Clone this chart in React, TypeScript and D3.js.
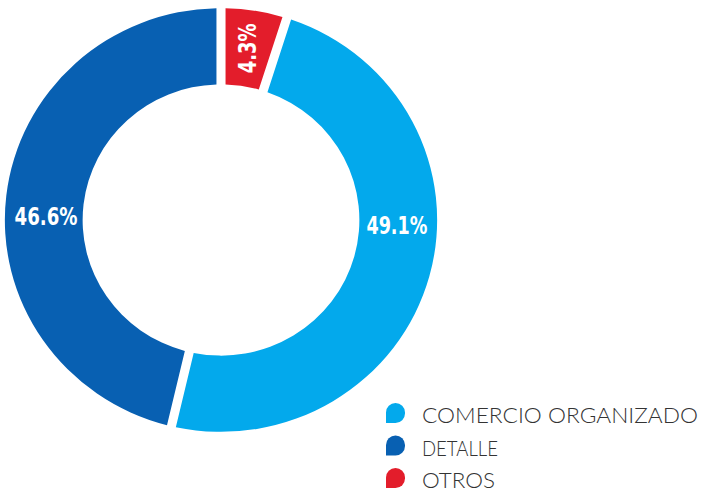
import React from "react";
import * as d3 from "d3";

const categories = ["OTROS", "COMERCIO ORGANIZADO", "DETALLE"];
const values = [4.3, 49.1, 46.6];
const labels = ["4.3%", "49.1%", "46.6%"];
const colors = ["#e31d2b", "#03a9ec", "#0860b2"];
const legendOrder = ["COMERCIO ORGANIZADO", "DETALLE", "OTROS"];

const W = 702;
const H = 499;
const CX = 221;
const CY = 220;
const R_OUT = 214;
const R_IN = 137;

// label placement (angle in degrees clockwise from top, radius), 0 = centroid
const labelPlacement: Record<string, { angle: number | null; r: number; rotate: number; len: number }> = {
  "OTROS": { angle: null, r: 175, rotate: -90, len: 50 },
  "COMERCIO ORGANIZADO": { angle: 92, r: 176, rotate: 0, len: 61 },
  "DETALLE": { angle: 271, r: 175, rotate: 0, len: 63 },
};

function markerPath(x: number, y: number, w: number, h: number) {
  const r = w / 2;
  return `M${x},${y + h} L${x},${y + r} A${r},${r} 0 0 1 ${x + w},${y + r} L${x + w},${y + h - r} A${r},${r} 0 0 1 ${x + w - r},${y + h} Z`;
}

export default function App() {
  const pie = d3
    .pie<number>()
    .sort(null)
    .value((d) => d)
    .padAngle(0.045);
  const arcs = pie(values);
  const arc = d3
    .arc<d3.PieArcDatum<number>>()
    .innerRadius(R_IN)
    .outerRadius(R_OUT)
    .padRadius(200);

  const legendY = d3.scalePoint<string>().domain(legendOrder).range([423, 488]);

  return (
    <svg width={W} height={H} style={{ position: "absolute", left: 0, top: 0, background: "#fff" }}>
      <g transform={`translate(${CX},${CY}) scale(1.01,0.99)`}>
        {arcs.map((a, i) => (
          <path key={categories[i]} d={arc(a) || ""} fill={colors[i]} />
        ))}
      </g>
      {arcs.map((a, i) => {
        const p = labelPlacement[categories[i]];
        let x: number, y: number;
        if (p.angle === null) {
          const c = arc.centroid(a);
          x = CX + c[0] * 1.01;
          y = CY + c[1] * 0.99;
        } else {
          const t = (p.angle * Math.PI) / 180;
          x = CX + p.r * Math.sin(t);
          y = CY - p.r * Math.cos(t);
        }
        return (
          <text
            key={"l" + i}
            transform={`translate(${x},${y}) rotate(${p.rotate})`}
            textAnchor="middle"
            dominantBaseline="central"
            fill="#fff"
            fontFamily="'Liberation Sans Narrow', 'DejaVu Sans Condensed', sans-serif"
            fontWeight="bold"
            fontSize={24}
            textLength={p.len}
            lengthAdjust="spacingAndGlyphs"
          >
            {labels[i]}
          </text>
        );
      })}
      {legendOrder.map((name) => {
        const i = categories.indexOf(name);
        const by = legendY(name) as number;
        const txtLen: Record<string, number> = { "COMERCIO ORGANIZADO": 276, "DETALLE": 76, "OTROS": 73 };
        return (
          <g key={"lg" + name}>
            <path d={markerPath(386, by - 20, 19, 20)} fill={colors[i]} />
            <text
              x={422}
              y={by}
              fill="#333"
              fontFamily="Lato, 'Liberation Sans', sans-serif"
              fontWeight={300}
              fontSize={22}
              textLength={txtLen[name]}
              lengthAdjust="spacingAndGlyphs"
            >
              {name}
            </text>
          </g>
        );
      })}
    </svg>
  );
}
